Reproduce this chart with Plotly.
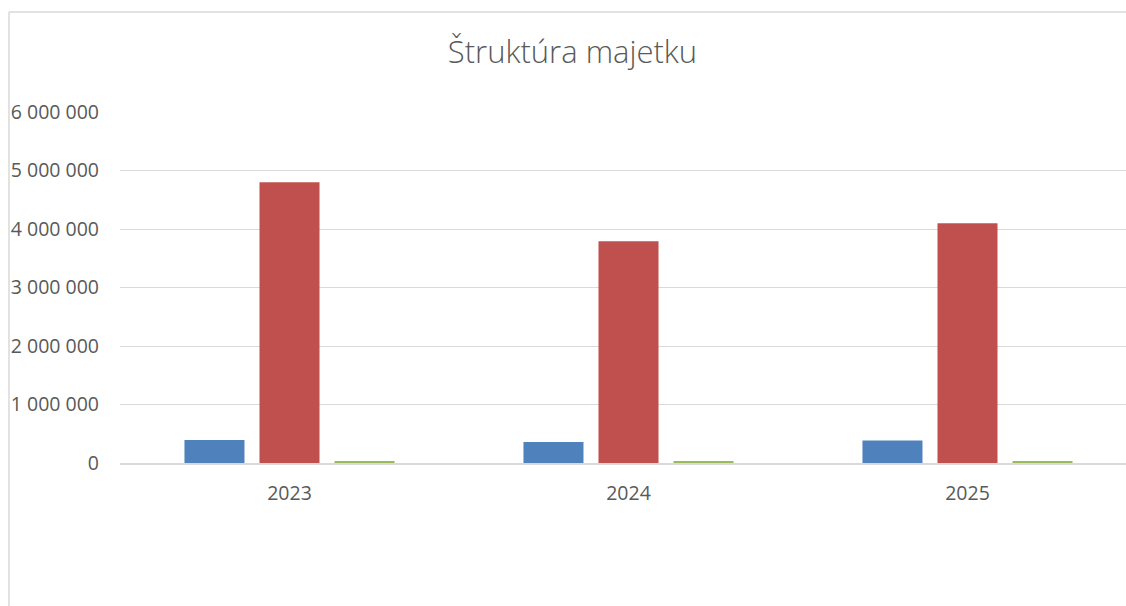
import plotly.graph_objects as go

years = ["2023", "2024", "2025"]
series_names = ["Neobežný majetok", "Obežný majetok", "Časové rozlíšenie"]
blue_vals = [395000, 360000, 385000]
red_vals = [4800000, 3790000, 4100000]
green_vals = [30000, 28000, 25000]
colors = ["#4F81BD", "#C0504D", "#9BBB59"]
y_ticks = [0, 1000000, 2000000, 3000000, 4000000, 5000000, 6000000]

W, H = 1126, 606
L, R, T = 120, 0, 112
B = H - 463

fig = go.Figure()
for name, vals, col in zip(series_names, [blue_vals, red_vals, green_vals], colors):
    fig.add_trace(go.Bar(x=years, y=vals, name=name, marker=dict(color=col, line=dict(width=0)),
                         showlegend=False))

pw = W - L - R
ph = H - T - B
def px_x(p):
    return (p - L) / pw
def px_y(p):
    return (H - B - p) / ph

fig.update_layout(
    width=W, height=H,
    margin=dict(l=L, r=R, t=T, b=B, pad=0),
    paper_bgcolor="white", plot_bgcolor="white",
    barmode="group", bargap=0.336, bargroupgap=0.2,
    separators=", ",
    font=dict(family="'Open Sans', Lato, sans-serif", color="#595959", size=19.5),
    title=dict(text="Štruktúra majetku", x=572.5 / W, xanchor="center",
               y=1 - 52 / H, yanchor="middle",
               font=dict(size=31, color="#595959", weight=300)),
    xaxis=dict(type="category", range=[-0.5, -0.5 + pw / 339.0], showgrid=False,
               showline=True, linecolor="#d9d9d9", linewidth=1.5, ticks="",
               ticklabelstandoff=12, tickfont=dict(size=19.5, color="#595959"), fixedrange=True),
    yaxis=dict(range=[0, 6000000], tickvals=y_ticks, tickformat=",d", showgrid=True,
               gridcolor="#d9d9d9", gridwidth=1, zeroline=False, showline=False, ticks="",
               ticklabelstandoff=20, tickfont=dict(size=19.5, color="#595959"), fixedrange=True),
    shapes=[
        dict(type="line", xref="paper", yref="paper", x0=px_x(9), x1=px_x(9), y0=px_y(12), y1=px_y(700),
             line=dict(color="#d9d9d9", width=1.5)),
        dict(type="line", xref="paper", yref="paper", x0=px_x(9), x1=px_x(1200), y0=px_y(12), y1=px_y(12),
             line=dict(color="#d9d9d9", width=1.5)),
    ],
)

fig.write_html("out.html", config={"displayModeBar": False},
               post_script="document.body.style.margin='0';document.body.style.overflow='hidden';")
